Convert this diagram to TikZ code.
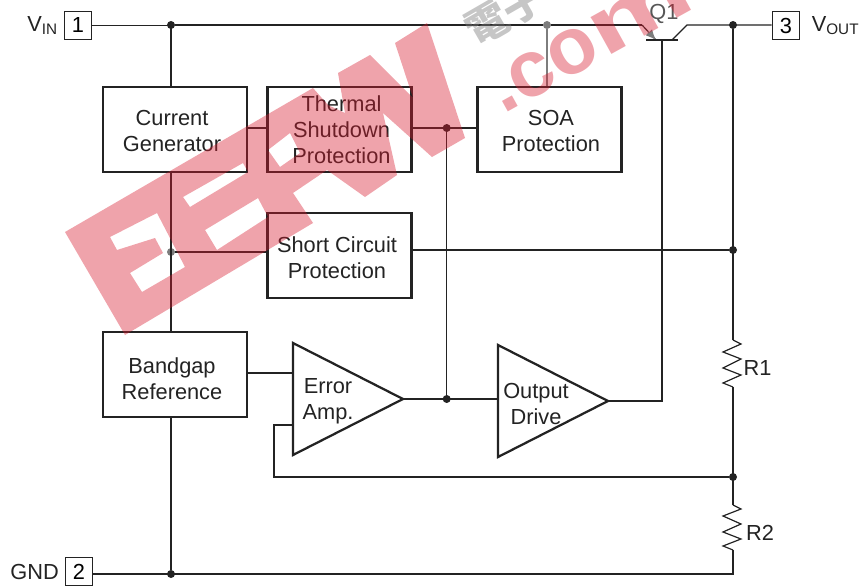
\documentclass[tikz,border=0pt]{standalone}
\usepackage{fontspec}
\setmainfont{Liberation Sans}
\newfontfamily\cjkmark{Noto Sans CJK TC}
\usepackage{xcolor}
\usepackage{graphicx}
\usetikzlibrary{arrows.meta,calc,positioning,shapes.geometric}
\definecolor{wireink}{RGB}{35,35,35}
\definecolor{fadeink}{RGB}{125,125,125}
\definecolor{markred}{RGB}{215,25,45}

\begin{document}
\begin{tikzpicture}[
      x=0.025cm, y=-0.025cm,
      font=\fontsize{15.5}{18.5}\selectfont,
      wire/.style={draw=wireink, line width=0.85pt},
      fadewire/.style={draw=fadeink, line width=0.85pt},
      block/.style={draw=wireink, line width=1.7pt, inner sep=0pt,
        minimum width=3.6cm, minimum height=2.125cm},
      pinbox/.style={draw=wireink, line width=0.7pt, inner sep=0pt, minimum size=0.69cm},
      amp/.style={draw=wireink, line width=1.6pt, isosceles triangle, isosceles triangle stretches,
        minimum width=2.8cm, minimum height=2.75cm, inner sep=0pt, outer sep=0pt, anchor=apex},
      lbl/.style={align=center, text=wireink, inner sep=0pt},
      dot/.style={circle, fill=wireink, inner sep=0pt, minimum size=0.2cm},
      fadedot/.style={dot, fill=fadeink},
      markfill/.style={fill=markred, fill opacity=0.4, even odd rule}
    ]
    \useasboundingbox (0,0) rectangle (861,585);

    \node[pinbox] (pin1) at (78,25.5) {1};
    \node[pinbox] (pin3) at (786,25.5) {3};
    \node[pinbox] (pin2) at (79,571.5) {2};
    \node[lbl, left=4pt of pin1] (vin) {V\textsubscript{IN}};
    \node[lbl, right=8pt of pin3] (vout) {V\textsubscript{OUT}};
    \node[lbl, left=4pt of pin2] (gnd) {GND};

    \node[block] (cg) at (175,129.5) {};
    \node[block] (thermal) at (339.5,129.5) {};
    \node[block] (soa) at (549.5,129.5) {};
    \node[block] (short) at (339.5,255.5) {};
    \node[block] (bandgap) at (175,374.5) {};
    \node[lbl] (cgtxt) at (172,131) {Current\\Generator};
    \node[lbl] (thermaltxt) at (341.5,130) {Thermal\\Shutdown\\Protection};
    \node[lbl] (soatxt) at (551,131) {SOA\\Protection};
    \node[lbl] (shorttxt) at (337,258) {Short Circuit\\Protection};
    \node[lbl] (bandgaptxt) at (172,379) {Bandgap\\Reference};

    \node[amp] (erramp) at (403,399) {};
    \node[amp] (outdrive) at (608,401) {};
    \node[lbl] (errtxt) at (328,401) {Error\\Amp.};
    \node[lbl] (drivetxt) at (536,404) {Output\\Drive};

    \node[dot] (dvin) at (171,25) {};
    \node[fadedot] (dsoa) at (547,25) {};
    \node[dot] (dvout) at (733,25) {};
    \node[dot] (dthermal) at (446.7,128) {};
    \node[fadedot] (dshort) at (171,252) {};
    \node[dot] (dsense) at (733,250) {};
    \node[dot] (dout) at (446.7,399) {};
    \node[dot] (dfb) at (733,477) {};
    \node[dot] (dgnd) at (171,574) {};

    \coordinate (qe) at (642,25);
    \coordinate (qeb) at (656,40);
    \coordinate (qc) at (687,25);
    \coordinate (qcb) at (672,40);
    \coordinate (qbl) at (646,40);
    \coordinate (qbr) at (678,40);
    \coordinate (qb) at (662,40);
    \coordinate (qturn) at (662,401);
    \node[lbl, text=fadeink!70!black] (q1) at (664,13.5) {Q1};

    \coordinate (r1top) at (733,340);
    \coordinate (r1bot) at (733,387);
    \coordinate (r2top) at (733,505);
    \coordinate (r2bot) at (733,550);
    \coordinate (corner) at (733,574);
    \node[lbl] (r1) at (757.5,368) {R1};
    \node[lbl] (r2) at (760,533) {R2};

    \coordinate (errin) at (293,373);
    \coordinate (errfb) at (293,425);
    \coordinate (fbup) at (274,425);
    \coordinate (fbleft) at (274,477);

    \draw[wire] (pin1) -- (pin1 -| dvin) -- (dvin);
    \draw[wire] (dvin) -- (dsoa) -- (qe);
    \draw[wire] (qe) -- (qeb);
    \draw[fadewire, -{Latex[length=2.6mm,width=2.2mm]}] ($(qe)!0.4!(qeb)$) -- (qeb);
    \draw[wire] (qbl) -- (qbr);
    \draw[wire] (qcb) -- (qc) -- (qc -| pin3.west);
    \draw[wire] (dvin) -- (dvin |- cg.north);
    \draw[fadewire] (dsoa) -- (dsoa |- soa.north);
    \draw[wire] (dvin |- cg.south) -- (dvin |- bandgap.north);
    \draw[wire] (dshort) -- (dshort -| short.west);
    \draw[wire] (cg.east |- dthermal) -- (thermal.west |- dthermal);
    \draw[wire] (thermal.east |- dthermal) -- (soa.west |- dthermal);
    \draw[wire] (dthermal) -- (dout);
    \draw[wire] (short.east |- dsense) -- (dsense);
    \draw[wire] (dvout) -- (r1top);
    \draw[wire] (r1top) -- ++(8,4) -- ++(-18,8) -- ++(18,7) -- ++(-18,9) -- ++(18,7) -- ++(-18,8) -- (r1bot);
    \draw[wire] (r1bot) -- (r2top);
    \draw[wire] (r2top) -- ++(8,4) -- ++(-18,7) -- ++(18,8) -- ++(-18,8) -- ++(18,7) -- ++(-18,7) -- (r2bot);
    \draw[wire] (r2bot) -- (corner) -- (corner -| pin2.east);
    \draw[wire] (dvin |- bandgap.south) -- (dgnd);

    \draw[wire] (bandgap.east |- errin) -- (errin);
    \draw[wire] (erramp.apex) -- (outdrive.lower side |- erramp.apex);
    \draw[wire] (outdrive.apex) -- (qturn) -- (qb);
    \draw[wire] (dfb) -- (fbleft) -- (fbup) -- (errfb);

    \fill[markfill]
      (65,232) -- (313,88) -- (328,105) -- (345,113) -- (338,73) -- (370,55) -- (413,98)
      -- (395,43) -- (427,23) -- (465,138) -- (432,157) -- (383,113) -- (397,175)
      -- (365,197) -- (327,170) -- (293,193) -- (313,223) -- (125,335) -- cycle
      (110,237) -- (157,213) -- (185,267) -- (142,292) -- (130,273) -- (163,253) -- (155,238) -- (117,250) -- cycle
      (183,197) -- (243,163) -- (248,172) -- (190,207) -- cycle
      (205,230) -- (258,198) -- (268,217) -- (217,250) -- cycle
      (268,150) -- (290,133) -- (300,153) -- (280,167) -- cycle;
    \node[anchor=base west, rotate=29, inner sep=0pt, text=markred, text opacity=0.4,
      font=\fontsize{57}{57}\selectfont\bfseries] (markcom) at (503,115) {.co\scalebox{1.5}[1]{m}};
    \node[rotate=30, inner sep=0pt, text=gray, text opacity=0.45,
      font=\cjkmark\fontsize{30}{30}\selectfont\bfseries] (markcn) at (505,13) {電子};
  \end{tikzpicture}
\end{document}
